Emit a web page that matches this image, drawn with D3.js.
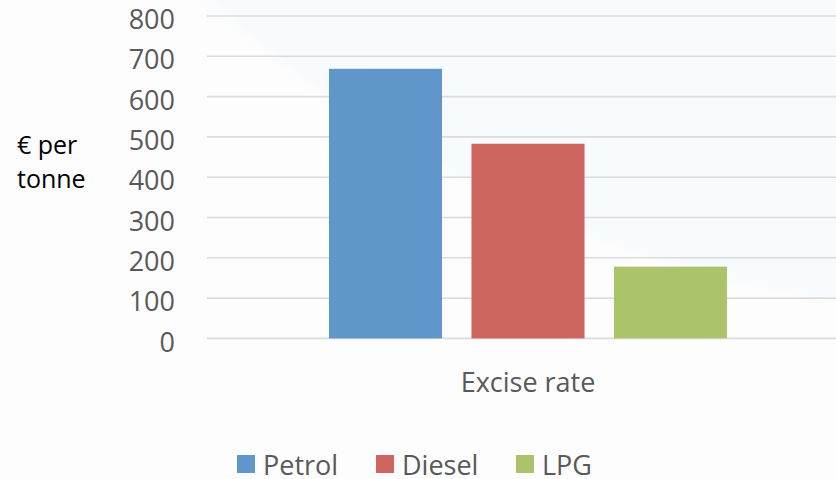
<!DOCTYPE html>
<html>
<head>
<meta charset="utf-8">
<title>Excise rate</title>
<style>
html, body {
  margin: 0;
  padding: 0;
  background: #fdfdfd;
}
svg {
  display: block;
  font-family: 'Open Sans', sans-serif;
}
.tick-label {
  fill: #595959;
  font-size: 27px;
  font-family: 'Open Sans', sans-serif;
}
.grid {
  stroke: #dcdcdc;
  stroke-width: 1.6px;
}
</style>
<script src="https://d3js.org/d3.v7.min.js"></script>
</head>
<body>
<svg width="836" height="479"></svg>
<script>

// data
var categories = ["Excise rate"];
var series = ["Petrol", "Diesel", "LPG"];
var values = [669, 483, 178];
var colors = ["#6096c9", "#cd665f", "#abc46c"];
var yTicks = [0, 100, 200, 300, 400, 500, 600, 700, 800];

var svg = d3.select("svg"),
    width = +svg.attr("width"),
    height = +svg.attr("height");

// faint blue background wash, white towards lower left
var defs = svg.append("defs");
var grad = defs.append("radialGradient")
    .attr("id", "wash")
    .attr("gradientUnits", "userSpaceOnUse")
    .attr("cx", 1017).attr("cy", -890).attr("r", 1210);
grad.append("stop").attr("offset", "0").attr("stop-color", "#f7fbfd");
grad.append("stop").attr("offset", "0.99").attr("stop-color", "#f8fbfd");
grad.append("stop").attr("offset", "1").attr("stop-color", "#fdfdfd");

svg.append("rect")
    .attr("width", width)
    .attr("height", height)
    .attr("fill", "url(#wash)");

var y = d3.scaleLinear()
    .domain([0, 800])
    .range([338.4, 16]);

var x0 = d3.scaleBand()
    .domain(categories)
    .range([207, 849]);

var x1 = d3.scaleBand()
    .domain(series)
    .range([0, x0.bandwidth()])
    .paddingInner(0.207)
    .paddingOuter(0.856);

// gridlines
svg.append("g")
  .selectAll("line")
  .data(yTicks)
  .enter().append("line")
    .attr("class", "grid")
    .attr("x1", 207)
    .attr("x2", width)
    .attr("y1", function(d) { return y(d); })
    .attr("y2", function(d) { return y(d); });

// y axis labels
var yAxis = d3.axisLeft(y).tickValues(yTicks).tickSize(0).tickPadding(0);
var gy = svg.append("g")
    .attr("transform", "translate(175,4)")
    .call(yAxis)
    .attr("font-family", null)
    .attr("font-size", null);
gy.select(".domain").remove();
gy.selectAll("text")
    .attr("class", "tick-label")
    .attr("fill", null);

// bars
svg.append("g")
  .selectAll("rect")
  .data(series)
  .enter().append("rect")
    .attr("x", function(d) { return x0(categories[0]) + x1(d); })
    .attr("width", x1.bandwidth())
    .attr("y", function(d, i) { return y(values[i]); })
    .attr("height", function(d, i) { return y(0) - y(values[i]); })
    .attr("fill", function(d, i) { return colors[i]; });

// category label
svg.append("g")
  .selectAll("text")
  .data(categories)
  .enter().append("text")
    .attr("class", "tick-label")
    .attr("x", function(d) { return x0(d) + x0.bandwidth() / 2; })
    .attr("y", 392)
    .attr("text-anchor", "middle")
    .text(function(d) { return d; });

// y title
svg.append("text")
    .attr("x", 17)
    .attr("y", 154)
    .attr("font-size", "25px")
    .attr("fill", "#000")
    .selectAll("tspan")
    .data(["€ per", "tonne"])
    .enter().append("tspan")
      .attr("x", 17)
      .attr("dy", function(d, i) { return i ? 34 : 0; })
      .text(function(d) { return d; });

// legend
var legendX = [237, 376, 516];
var legend = svg.append("g")
  .selectAll("g")
  .data(series)
  .enter().append("g")
    .attr("transform", function(d, i) { return "translate(" + legendX[i] + ",455)"; });

legend.append("rect")
    .attr("width", 18)
    .attr("height", 18)
    .attr("fill", function(d, i) { return colors[i]; });

legend.append("text")
    .attr("class", "tick-label")
    .attr("x", 26)
    .attr("y", 20)
    .text(function(d) { return d; });

</script>
</body>
</html>
